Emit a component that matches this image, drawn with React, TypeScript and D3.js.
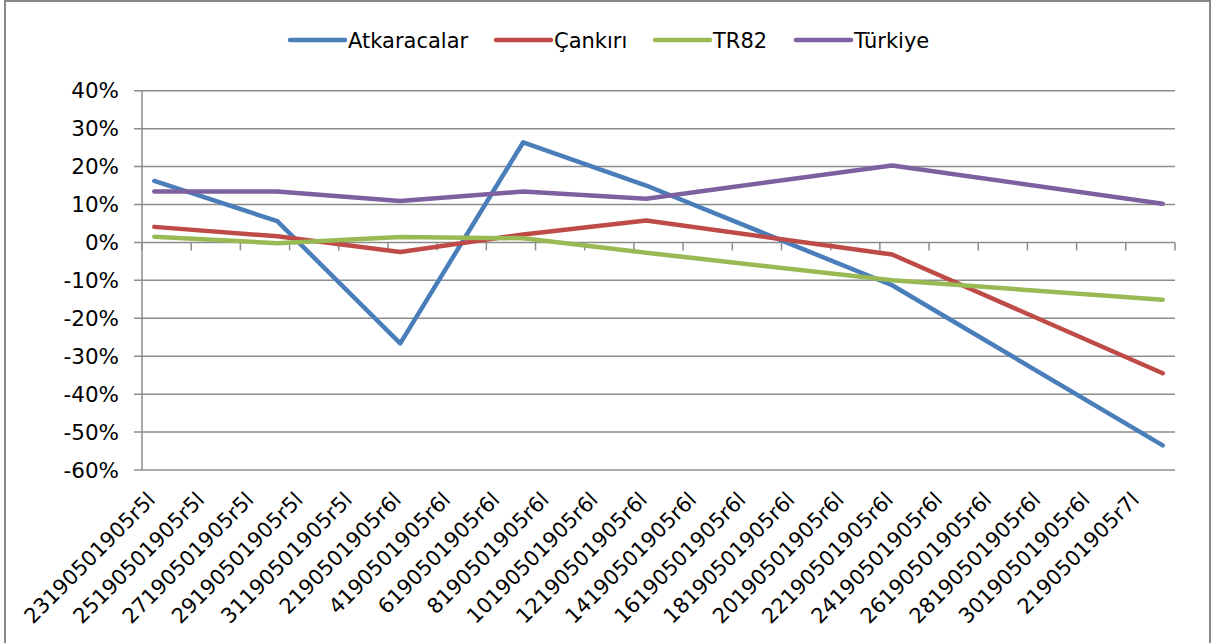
import React from "react";
import * as d3 from "d3";

const xLabels = [
  "23190501905r5l", "25190501905r5l", "27190501905r5l", "29190501905r5l", "31190501905r5l",
  "2190501905r6l", "4190501905r6l", "6190501905r6l", "8190501905r6l", "10190501905r6l",
  "12190501905r6l", "14190501905r6l", "16190501905r6l", "18190501905r6l", "20190501905r6l",
  "22190501905r6l", "24190501905r6l", "26190501905r6l", "28190501905r6l", "30190501905r6l",
  "2190501905r7l",
];
// day offsets (from first label date) of the observations
const dayIndex = [0, 5, 10, 15, 20, 30, 41];
const atkaracalar = [0.162, 0.056, -0.266, 0.264, 0.15, -0.113, -0.535];
const cankiri = [0.041, 0.016, -0.025, 0.021, 0.058, -0.032, -0.345];
const tr82 = [0.015, -0.002, 0.014, 0.011, -0.027, -0.1, -0.151];
const turkiye = [0.134, 0.134, 0.109, 0.134, 0.115, 0.203, 0.102];
const yTicks = [0.4, 0.3, 0.2, 0.1, 0, -0.1, -0.2, -0.3, -0.4, -0.5, -0.6];

const seriesNames = ["Atkaracalar", "Çankırı", "TR82", "Türkiye"];
const seriesValues = [atkaracalar, cankiri, tr82, turkiye];
const colors = ["#4A7EBB", "#BE4B48", "#98B954", "#7D60A0"];

const W = 1211;
const H = 643;
const FONT = "'DejaVu Sans', Verdana, sans-serif";

export default function App() {
  const totalDays = 42;
  const x = d3.scaleLinear().domain([0, totalDays]).range([142, 1175]);
  const y = d3.scaleLinear().domain([-0.6, 0.4]).range([470, 90.7]);
  const line = d3
    .line<[number, number]>()
    .x((d) => x(d[0] + 0.5))
    .y((d) => y(d[1]));
  const fmt = (t: number) => d3.format(".0%")(t).replace("\u2212", "-");

  const tickDays = d3.range(0, totalDays + 1, 2);
  const legendX = [290, 496, 655, 796];

  return (
    <svg
      width={W}
      height={H}
      style={{ position: "absolute", left: 0, top: 0, background: "#fff" }}
      fontFamily={FONT}
    >
      <rect x={0} y={0} width={W} height={H} fill="#fff" />
      {/* chart border */}
      <path d={`M5,${H + 5} V1 H1210 V${H + 5}`} fill="none" stroke="#888" strokeWidth={2} />

      {/* gridlines */}
      {yTicks.map((t) => (
        <line key={t} x1={134} x2={1175} y1={y(t)} y2={y(t)} stroke="#8c8c8c" strokeWidth={1.5} />
      ))}
      {/* y axis */}
      <line x1={142} x2={142} y1={y(0.4)} y2={y(-0.6)} stroke="#8c8c8c" strokeWidth={1.5} />
      {yTicks.map((t) => (
        <text
          key={"yl" + t}
          x={119}
          y={y(t)}
          dy="0.36em"
          textAnchor="end"
          fontSize={21.5}
          fill="#000"
        >
          {fmt(t)}
        </text>
      ))}
      {/* x axis ticks at 0 */}
      {tickDays.map((d) => (
        <line key={"xt" + d} x1={x(d)} x2={x(d)} y1={y(0)} y2={y(0) + 8} stroke="#8c8c8c" strokeWidth={1.5} />
      ))}
      {/* x labels */}
      {xLabels.map((lab, i) => {
        const cx = x(i * 2 + 0.5);
        return (
          <text
            key={"xl" + i}
            transform={`translate(${cx - 3},${496}) rotate(-45)`}
            textAnchor="end"
            dy="0.35em"
            fontSize={21}
            fill="#000"
          >
            {lab}
          </text>
        );
      })}

      {/* series */}
      {seriesValues.map((vals, si) => (
        <path
          key={"s" + si}
          d={line(vals.map((v, i) => [dayIndex[i], v]))!}
          fill="none"
          stroke={colors[si]}
          strokeWidth={4.5}
          strokeLinecap="round"
          strokeLinejoin="round"
        />
      ))}

      {/* legend */}
      {seriesNames.map((n, i) => (
        <g key={"lg" + i}>
          <line
            x1={legendX[i]}
            x2={legendX[i] + 55}
            y1={40}
            y2={40}
            stroke={colors[i]}
            strokeWidth={4.5}
            strokeLinecap="round"
          />
          <text x={legendX[i] + 58} y={40} dy="0.36em" fontSize={21} fill="#000">
            {n}
          </text>
        </g>
      ))}
    </svg>
  );
}
